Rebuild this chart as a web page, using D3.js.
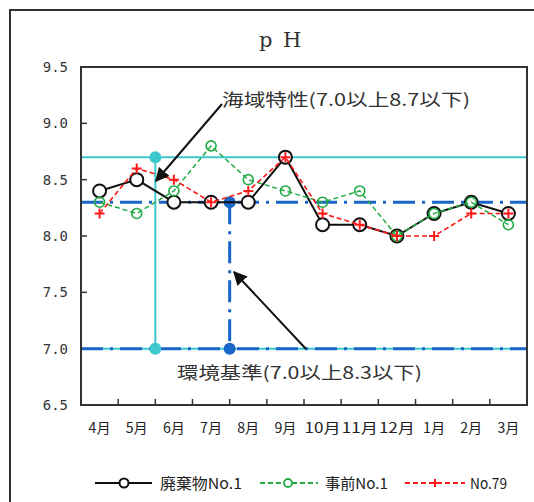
<!DOCTYPE html>
<html><head><meta charset="utf-8">
<script src="https://cdn.jsdelivr.net/npm/d3@7"></script>
<style>body{margin:0;background:#fff}svg{display:block}</style>
</head><body><svg id="c" width="534" height="502"></svg>
<script>
const months = ["4月","5月","6月","7月","8月","9月","10月","11月","12月","1月","2月","3月"];
const haikibutsu = [8.4,8.5,8.3,8.3,8.3,8.7,8.1,8.1,8.0,8.2,8.3,8.2];
const jizen = [8.3,8.2,8.4,8.8,8.5,8.4,8.3,8.4,8.0,8.2,8.3,8.1];
const no79 = [8.2,8.6,8.5,8.3,8.4,8.7,8.2,8.1,8.0,8.0,8.2,8.2];
const yTicks = [6.5,7.0,7.5,8.0,8.5,9.0,9.5];
const kaiiki = [7.0,8.7];
const kankyo = [7.0,8.3];

const svg = d3.select("#c");
const font = "'Noto Sans CJK JP', sans-serif";
const L=81,T=67,R=527,B=405;
const x = d3.scaleBand().domain(months).range([L,R]);
const y = d3.scaleLinear().domain([6.5,9.5]).range([B,T]);

svg.append("rect").attr("x",10).attr("y",10).attr("width",540).attr("height",500)
  .attr("fill","#fff").attr("stroke","#333").attr("stroke-width",2);

const tg = svg.append("g").attr("font-family","'DejaVu Serif', serif").attr("font-size",21).attr("fill","#333");
tg.append("text").attr("x",259).attr("y",47).text("p");
tg.append("text").attr("x",283).attr("y",47).text("H");

// y axis labels
svg.append("g").selectAll("text").data(yTicks).join("text")
  .attr("x",68).attr("y",d=>y(d)+5).attr("text-anchor","end")
  .attr("font-family","'DejaVu Sans Mono', monospace").attr("font-size",14).attr("fill","#333")
  .text(d=>d.toFixed(1));
svg.append("g").selectAll("line").data(yTicks.slice(1,-1)).join("line")
  .attr("x1",L).attr("x2",L+6).attr("y1",d=>y(d)).attr("y2",d=>y(d)).attr("stroke","#333").attr("stroke-width",1.5);
svg.append("g").selectAll("line").data(months.slice(1)).join("line")
  .attr("x1",d=>x(d)).attr("x2",d=>x(d)).attr("y1",B).attr("y2",B-6).attr("stroke","#333").attr("stroke-width",1.5);
svg.append("g").selectAll("text").data(months).join("text")
  .attr("x",d=>x(d)+x.bandwidth()/2).attr("y",B+28).attr("text-anchor","middle")
  .attr("font-family",font).attr("font-size",14).attr("fill","#222")
  .attr("textLength",d=>d.length>2?36:22).attr("lengthAdjust","spacingAndGlyphs").text(d=>d);

const cyan="#3cc8cc", blue="#1a66c8";
const xk = x("6月"), xb = x("8月");
kaiiki.forEach(v=>svg.append("line").attr("x1",L).attr("x2",R).attr("y1",y(v)).attr("y2",y(v)).attr("stroke",cyan).attr("stroke-width",2));
svg.append("line").attr("x1",xk).attr("x2",xk).attr("y1",y(kaiiki[1])).attr("y2",y(kaiiki[0])).attr("stroke",cyan).attr("stroke-width",2);
kankyo.forEach(v=>svg.append("line").attr("x1",L).attr("x2",R).attr("y1",y(v)).attr("y2",y(v)).attr("stroke",blue).attr("stroke-width",3).attr("stroke-dasharray","22,7,3,7"));
svg.append("line").attr("x1",xb).attr("x2",xb).attr("y1",y(kankyo[1])).attr("y2",y(kankyo[0])).attr("stroke",blue).attr("stroke-width",3).attr("stroke-dasharray","22,7,3,7");
kaiiki.forEach(v=>svg.append("circle").attr("cx",xk).attr("cy",y(v)).attr("r",6).attr("fill",cyan));
kankyo.forEach(v=>svg.append("circle").attr("cx",xb).attr("cy",y(v)).attr("r",6).attr("fill",blue));

const cx = (d,i)=>x(months[i])+x.bandwidth()/2;
const line = d3.line().x(cx).y(d=>y(d));
svg.append("path").attr("d",line(haikibutsu)).attr("fill","none").attr("stroke","#111").attr("stroke-width",2);
svg.append("g").selectAll("circle").data(haikibutsu).join("circle")
  .attr("cx",cx).attr("cy",d=>y(d)).attr("r",6.5).attr("fill","#fff").attr("stroke","#111").attr("stroke-width",2);
svg.append("path").attr("d",line(jizen)).attr("fill","none").attr("stroke","#22aa44").attr("stroke-width",1.5).attr("stroke-dasharray","5,3");
svg.append("g").selectAll("circle").data(jizen).join("circle")
  .attr("cx",cx).attr("cy",d=>y(d)).attr("r",5).attr("fill","none").attr("stroke","#22aa44").attr("stroke-width",1.6);
svg.append("path").attr("d",line(no79)).attr("fill","none").attr("stroke","#ff1a1a").attr("stroke-width",1.6).attr("stroke-dasharray","5,3");
svg.append("g").selectAll("path.p").data(no79).join("path")
  .attr("d",(d,i)=>{const a=cx(d,i),b=y(d);return `M${a-5},${b}H${a+5}M${a},${b-5}V${b+5}`;})
  .attr("stroke","#ff1a1a").attr("stroke-width",2);

svg.append("rect").attr("x",L).attr("y",T).attr("width",R-L).attr("height",B-T).attr("fill","none").attr("stroke","#333").attr("stroke-width",2);

// annotations
const defs = svg.append("defs");
defs.append("marker").attr("id","ah").attr("viewBox","0 0 10 10").attr("refX",9).attr("refY",5)
  .attr("markerWidth",14).attr("markerHeight",14).attr("markerUnits","userSpaceOnUse").attr("orient","auto")
  .append("path").attr("d","M0,0L10,5L0,10z").attr("fill","#111");
svg.append("line").attr("x1",222).attr("y1",104).attr("x2",156).attr("y2",181).attr("stroke","#111").attr("stroke-width",2).attr("marker-end","url(#ah)");
svg.append("line").attr("x1",306).attr("y1",349).attr("x2",234).attr("y2",272).attr("stroke","#111").attr("stroke-width",2).attr("marker-end","url(#ah)");
svg.append("text").attr("x",222).attr("y",106).attr("font-family",font).attr("font-size",17).attr("fill","#333")
  .attr("textLength",248).attr("lengthAdjust","spacingAndGlyphs").text("海域特性(7.0以上8.7以下)");
svg.append("text").attr("x",177).attr("y",379).attr("font-family",font).attr("font-size",17).attr("fill","#333")
  .attr("textLength",245).attr("lengthAdjust","spacingAndGlyphs").text("環境基準(7.0以上8.3以下)");

// legend
const lg = svg.append("g").attr("font-family",font).attr("font-size",15).attr("fill","#222");
const ly = 483;
lg.append("line").attr("x1",95).attr("x2",152).attr("y1",ly).attr("y2",ly).attr("stroke","#111").attr("stroke-width",2);
lg.append("circle").attr("cx",124).attr("cy",ly).attr("r",4.5).attr("fill","#fff").attr("stroke","#111").attr("stroke-width",2);
lg.append("text").attr("x",160).attr("y",ly+6).attr("textLength",82).attr("lengthAdjust","spacingAndGlyphs").text("廃棄物No.1");
lg.append("line").attr("x1",260).attr("x2",318).attr("y1",ly).attr("y2",ly).attr("stroke","#22aa44").attr("stroke-width",1.8).attr("stroke-dasharray","5,3");
lg.append("circle").attr("cx",288).attr("cy",ly).attr("r",4).attr("fill","#fff").attr("stroke","#22aa44").attr("stroke-width",1.8);
lg.append("text").attr("x",325).attr("y",ly+6).attr("textLength",63).attr("lengthAdjust","spacingAndGlyphs").text("事前No.1");
lg.append("line").attr("x1",405).attr("x2",465).attr("y1",ly).attr("y2",ly).attr("stroke","#ff1a1a").attr("stroke-width",1.8).attr("stroke-dasharray","5,3");
lg.append("path").attr("d",`M431,${ly}H439M435,${ly-4}V${ly+4}`).attr("stroke","#ff1a1a").attr("stroke-width",2);
lg.append("text").attr("x",470).attr("y",ly+6).attr("textLength",37).attr("lengthAdjust","spacingAndGlyphs").text("No.79");
</script></body></html>
